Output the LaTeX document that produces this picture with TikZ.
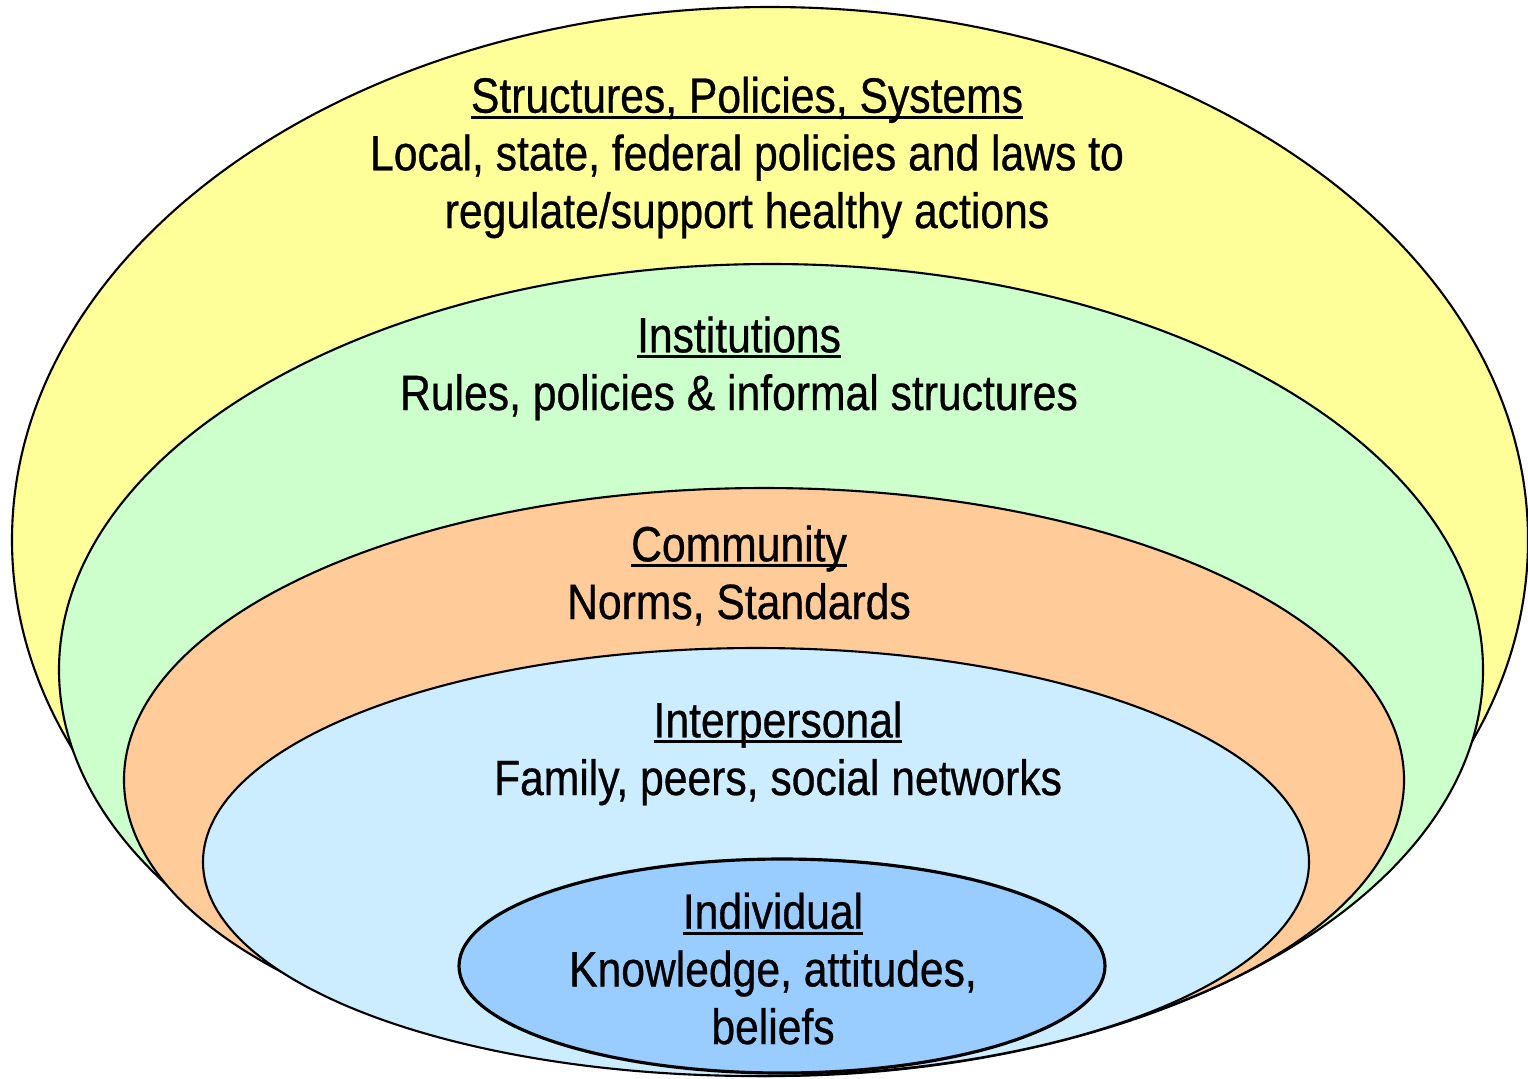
\documentclass[tikz,border=0pt]{standalone}
\usepackage{fontspec}
\setmainfont{Liberation Sans}[FakeStretch=0.86,FakeBold=0.6]
\usetikzlibrary{positioning}
\definecolor{sysyellow}{RGB}{255,255,153}
\definecolor{instgreen}{RGB}{204,255,204}
\definecolor{commorange}{RGB}{255,204,153}
\definecolor{interblue}{RGB}{204,236,255}
\definecolor{indivblue}{RGB}{153,204,255}
\newcommand{\lvlhead}[1]{\setbox0=\hbox{#1}\rlap{\rule[-0.12em]{\wd0}{0.06em}}\box0}
\tikzset{
  ring/.style={draw=black,line width=0.6pt},
  lvltext/.style={align=center,anchor=base,inner sep=0pt,font=\fontsize{14.1pt}{16.4pt}\selectfont}
}

\begin{document}
\begin{tikzpicture}[x=0.01cm,y=-0.01cm]
        \useasboundingbox (0,0) rectangle (1528,1078);

        \coordinate (sysc) at (770,540);
        \coordinate (instc) at (771,670);
        \coordinate (commc) at (764,780);
        \coordinate (interc) at (756,862);
        \coordinate (indivc) at (782,966);

        \draw[ring,fill=sysyellow] (sysc) ellipse [x radius=758,y radius=533];
        \draw[ring,fill=instgreen] (instc) ellipse [x radius=712,y radius=406];
        \draw[ring,fill=commorange] (commc) ellipse [x radius=640,y radius=292];
        \draw[ring,fill=interblue] (interc) ellipse [x radius=553,y radius=214];
        \draw[ring,fill=indivblue,line width=0.9pt] (indivc) ellipse [x radius=323,y radius=107];

        \node[lvltext] (sys) at (747,228) {\lvlhead{Structures, Policies, Systems}\\Local, state, federal policies and laws to\\regulate/support healthy actions};
        \node[lvltext] (inst) at (739,410) {\lvlhead{Institutions}\\Rules, policies \& informal structures};
        \node[lvltext] (comm) at (739,619) {\lvlhead{Community}\\Norms, Standards};
        \node[lvltext] (inter) at (778,795) {\lvlhead{Interpersonal}\\Family, peers, social networks};
        \node[lvltext] (indiv) at (773,1044) {\lvlhead{Individual}\\Knowledge, attitudes,\\beliefs};
\end{tikzpicture}
\end{document}
